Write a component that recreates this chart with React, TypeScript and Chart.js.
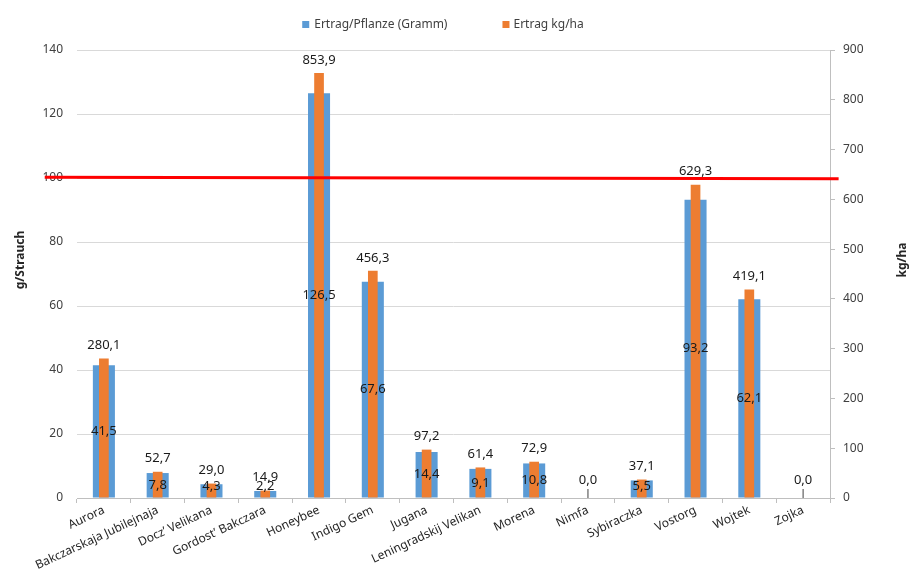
import React, { useEffect, useRef } from "react";
import { Chart, registerables } from "chart.js";

Chart.register(...registerables);

const categories = [
  "Aurora",
  "Bakczarskaja Jubilejnaja",
  "Docz’ Velikana",
  "Gordost’ Bakczara",
  "Honeybee",
  "Indigo Gem",
  "Jugana",
  "Leningradskij Velikan",
  "Morena",
  "Nimfa",
  "Sybiraczka",
  "Vostorg",
  "Wojtek",
  "Zojka",
];

const ertragPflanze = [41.5, 7.8, 4.3, 2.2, 126.5, 67.6, 14.4, 9.1, 10.8, 0, 5.5, 93.2, 62.1, 0];
const ertragKgHa = [280.1, 52.7, 29.0, 14.9, 853.9, 456.3, 97.2, 61.4, 72.9, 0, 37.1, 629.3, 419.1, 0];

// reference line (left axis values at its two ends)
const refLineX = [-0.6, 14.16];
const refLineY = [100.25, 99.78];

const leftTicks = { min: 0, max: 140, step: 20 };
const rightTicks = { min: 0, max: 900, step: 100 };

const seriesNames = ["Ertrag/Pflanze (Gramm)", "Ertrag kg/ha"];
const seriesColors = ["#5B9BD5", "#ED7D31"];
const axisTitles = ["g/Strauch", "kg/ha"];

const FONT = '"Noto Sans", "DejaVu Sans", sans-serif';

const fmt = (v: number) => v.toFixed(1).replace(".", ",");

const labelPlugin = {
  id: "valueLabels",
  afterDatasetsDraw(chart: any) {
    const ctx = chart.ctx;
    ctx.save();
    ctx.font = `13px ${FONT}`;
    ctx.fillStyle = "#1a1a1a";
    ctx.textAlign = "center";
    ctx.textBaseline = "middle";
    // orange labels (outside end)
    const m1 = chart.getDatasetMeta(1);
    m1.data.forEach((el: any, i: number) => {
      const v = ertragKgHa[i];
      if (v === 0) {
        const y = el.base - 18;
        ctx.fillText(fmt(v), el.x, y);
        ctx.strokeStyle = "#404040";
        ctx.lineWidth = 1;
        ctx.beginPath();
        ctx.moveTo(el.x, el.base - 9);
        ctx.lineTo(el.x, el.base);
        ctx.stroke();
      } else {
        ctx.fillText(fmt(v), el.x, el.y - 13);
      }
    });
    // blue labels (center)
    const m0 = chart.getDatasetMeta(0);
    m0.data.forEach((el: any, i: number) => {
      const v = ertragPflanze[i];
      if (v === 0) return;
      const mid = Math.min((el.y + el.base) / 2, el.base - 11);
      ctx.fillText(fmt(v), el.x, mid);
    });
    ctx.restore();
  },
  afterDraw(chart: any) {
    const ctx = chart.ctx;
    ctx.save();
    // legend
    ctx.font = `12px ${FONT}`;
    ctx.textBaseline = "middle";
    ctx.textAlign = "left";
    const w1 = ctx.measureText(seriesNames[0]).width;
    const w2 = ctx.measureText(seriesNames[1]).width;
    const total = 7 + 5 + w1 + 55 + 7 + 4 + w2;
    let x = 443 - total / 2;
    const yc = 24.5;
    ctx.fillStyle = seriesColors[0];
    ctx.fillRect(x, yc - 3.5, 7, 7);
    x += 12;
    ctx.fillStyle = "#404040";
    ctx.fillText(seriesNames[0], x, yc);
    x += w1 + 55;
    ctx.fillStyle = seriesColors[1];
    ctx.fillRect(x, yc - 3.5, 7, 7);
    x += 11;
    ctx.fillStyle = "#404040";
    ctx.fillText(seriesNames[1], x, yc);
    // axis titles
    ctx.font = `bold 12px ${FONT}`;
    ctx.fillStyle = "#262626";
    ctx.textAlign = "center";
    const ty = 260;
    ctx.save();
    ctx.translate(21, ty);
    ctx.rotate(-Math.PI / 2);
    ctx.fillText(axisTitles[0], 0, 0);
    ctx.restore();
    ctx.save();
    ctx.translate(903, ty);
    ctx.rotate(-Math.PI / 2);
    ctx.fillText(axisTitles[1], 0, 0);
    ctx.restore();
    ctx.restore();
  },
};

export default function App() {
  const ref = useRef<HTMLCanvasElement | null>(null);

  useEffect(() => {
    document.body.style.margin = "0";
    if (!ref.current) return;
    const chart = new Chart(ref.current, {
      type: "bar",
      data: {
        labels: categories,
        datasets: [
          {
            type: "bar",
            label: seriesNames[0],
            data: ertragPflanze,
            backgroundColor: seriesColors[0],
            barPercentage: 0.41,
            categoryPercentage: 1,
            grouped: false,
            yAxisID: "y",
            xAxisID: "x",
            order: 2,
          } as any,
          {
            type: "bar",
            label: seriesNames[1],
            data: ertragKgHa,
            backgroundColor: seriesColors[1],
            barPercentage: 0.18,
            categoryPercentage: 1,
            grouped: false,
            yAxisID: "y2",
            xAxisID: "x",
            order: 1,
          } as any,
          {
            type: "line",
            label: "ref",
            data: refLineX.map((xv, i) => ({ x: xv, y: refLineY[i] })),
            borderColor: "#FF0000",
            borderWidth: 3,
            pointRadius: 0,
            xAxisID: "xl",
            yAxisID: "y",
            clip: false,
            order: 0,
          } as any,
        ],
      },
      options: {
        responsive: false,
        animation: false,
        events: [],
        layout: { padding: { top: 50, left: 0, right: 0, bottom: 0 } },
        plugins: {
          legend: { display: false },
          tooltip: { enabled: false },
          title: { display: false },
        },
        scales: {
          x: {
            type: "category",
            position: "bottom",
            offset: true,
            grid: {
              offset: true,
              drawOnChartArea: false,
              drawTicks: true,
              tickLength: 5,
              color: "#bfbfbf",
            },
            border: { display: true, color: "#bfbfbf" },
            ticks: {
              autoSkip: false,
              minRotation: 25,
              maxRotation: 25,
              padding: 0,
              color: "#262626",
              font: { family: FONT, size: 12 },
            },
            afterFit(scale: any) {
              scale.height = 79;
            },
          },
          xl: {
            type: "linear",
            display: false,
            offset: false,
            grid: { offset: false },
            min: 0,
            max: 14,
          },
          y: {
            type: "linear",
            position: "left",
            min: leftTicks.min,
            max: leftTicks.max,
            ticks: {
              stepSize: leftTicks.step,
              padding: 14,
              color: "#404040",
              font: { family: FONT, size: 12 },
            },
            grid: { color: "#d9d9d9", drawTicks: false },
            border: { display: false },
            afterFit(scale: any) {
              scale.width = 77;
            },
          },
          y2: {
            type: "linear",
            position: "right",
            min: rightTicks.min,
            max: rightTicks.max,
            ticks: {
              stepSize: rightTicks.step,
              padding: 8,
              color: "#404040",
              font: { family: FONT, size: 12 },
            },
            grid: {
              drawOnChartArea: false,
              drawTicks: true,
              tickLength: 5,
              color: "#bfbfbf",
            },
            border: { display: true, color: "#bfbfbf" },
            afterFit(scale: any) {
              scale.width = 79;
            },
          },
        },
      } as any,
      plugins: [labelPlugin],
    });
    return () => chart.destroy();
  }, []);

  return (
    <div style={{ width: 909, height: 577 }}>
      <canvas ref={ref} width={909} height={577} style={{ display: "block" }} />
    </div>
  );
}
